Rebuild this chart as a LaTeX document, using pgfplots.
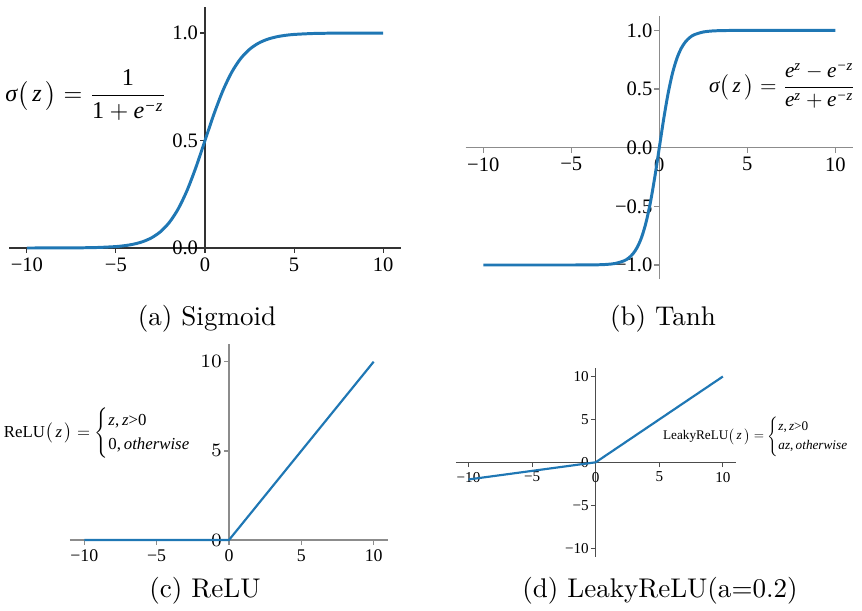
\documentclass[border=0pt]{standalone}
\usepackage{amsmath}
\usepackage{graphicx}
\usepackage{fontspec}
\usepackage{pgfplots}
\pgfplotsset{compat=1.18}
\newfontfamily\tnr{Liberation Serif}
\newcommand\T[1]{\text{\tnr #1}}
\newcommand\Z{\bigl(\,\T{\itshape z}\,\bigr)}
\definecolor{tabblue}{HTML}{1F77B4}

\pgfplotsset{
  actfig/.style={
    scale only axis,
    anchor=origin,
    axis lines=middle,
    axis line style={-},
    clip=false,
    xmin=-11, xmax=11,
    xtick={-10,-5,0,5,10},
    xticklabels={−10,−5,0,5,10},
    tick align=outside,
    major tick length=1.8pt,
    yticklabel style={inner sep=0.6pt},
    xticklabel style={inner sep=1.6pt},
    hide obscured x ticks=false,
    hide obscured y ticks=false,
    every axis plot/.append style={color=tabblue},
  }
}

\begin{document}
\begin{tikzpicture}
\useasboundingbox (0,0) rectangle (318.94pt,225.7pt);

% (a) sigmoid
\begin{axis}[actfig,
  at={(75.85pt,133.94pt)}, width=145.04pt, height=89.89pt,
  ymin=-0.01, ymax=1.12,
  ytick={0,0.5,1}, yticklabels={0.0,0.5,1.0},
  axis line style={black!80, line width=0.4pt},
  tick style={black!80, line width=0.4pt},
  ticklabel style={font=\tnr\fontsize{7.6}{8}\selectfont},
]
\addplot[line width=1.1pt, smooth] coordinates {
(-10,0.0000454) (-9,0.000123) (-8,0.000335) (-7,0.000911) (-6,0.002473)
(-5,0.006693) (-4.5,0.01099) (-4,0.017986) (-3.5,0.029312) (-3,0.047426)
(-2.5,0.075858) (-2,0.119203) (-1.5,0.182426) (-1,0.268941) (-0.5,0.377541)
(0,0.5) (0.5,0.622459) (1,0.731059) (1.5,0.817574) (2,0.880797)
(2.5,0.924142) (3,0.952574) (3.5,0.970688) (4,0.982014) (4.5,0.98901)
(5,0.993307) (6,0.997527) (7,0.999089) (8,0.999665) (9,0.999877) (10,0.999955)};
\end{axis}

% (b) tanh
\begin{axis}[actfig,
  at={(243.94pt,171.05pt)}, width=143.26pt, height=97.22pt,
  ymin=-1.12, ymax=1.12,
  ytick={-1,-0.5,0,0.5,1}, yticklabels={−1.0,−0.5,0.0,0.5,1.0},
  axis line style={black!45, line width=0.55pt},
  tick style={black!45, line width=0.5pt},
  ticklabel style={font=\tnr\fontsize{7.6}{8}\selectfont},
]
\addplot[line width=1.1pt, smooth] coordinates {
(-10,-1) (-6,-0.99999) (-5,-0.99991) (-4,-0.99933) (-3.5,-0.99818) (-3,-0.99505)
(-2.5,-0.98661) (-2,-0.96403) (-1.75,-0.94138) (-1.5,-0.90515) (-1.25,-0.84828)
(-1,-0.76159) (-0.75,-0.63515) (-0.5,-0.46212) (-0.25,-0.24492) (0,0)
(0.25,0.24492) (0.5,0.46212) (0.75,0.63515) (1,0.76159) (1.25,0.84828)
(1.5,0.90515) (1.75,0.94138) (2,0.96403) (2.5,0.98661) (3,0.99505)
(3.5,0.99818) (4,0.99933) (5,0.99991) (6,0.99999) (10,1)};
\end{axis}

% (c) ReLU
\begin{axis}[actfig,
  at={(84.73pt,25.9pt)}, width=117.78pt, height=73.23pt,
  ymin=-0.1, ymax=11,
  ytick={0,5,10},
  axis line style={black!45, line width=0.55pt},
  tick style={black!45, line width=0.5pt},
  ticklabel style={font=\tnr\fontsize{6.6}{7}\selectfont},
]
\addplot[line width=0.8pt] coordinates {(-10,0) (0,0) (10,10)};
\end{axis}

% (d) LeakyReLU
\begin{axis}[actfig,
  at={(220.41pt,54.65pt)}, width=103.54pt, height=69.84pt,
  ymin=-11, ymax=11,
  ytick={-10,-5,0,5,10}, yticklabels={−10,−5,0,5,10},
  axis line style={black!70, line width=0.4pt},
  tick style={black!70, line width=0.4pt},
  ticklabel style={font=\tnr\fontsize{5.6}{6}\selectfont},
]
\addplot[line width=0.8pt] coordinates {(-10,-2) (0,0) (10,10)};
\end{axis}

% formulas
\node at (31.82pt,190.55pt) {\resizebox{59.6pt}{!}{$\T{\itshape σ}\Z = \dfrac{\T{1}}{\T{1}+\T{\itshape e}^{\T{\itshape −z}}}$}};
\node at (289.53pt,193.88pt) {\resizebox{54.4pt}{!}{$\T{\itshape σ}\Z = \dfrac{\T{\itshape e}^{\T{\itshape z}}-\T{\itshape e}^{\T{\itshape −z}}}{\T{\itshape e}^{\T{\itshape z}}+\T{\itshape e}^{\T{\itshape −z}}}$}};
\node at (39.22pt,65.49pt) {\resizebox{75.5pt}{!}{$\T{ReLU}\Z = \begin{cases}\T{\itshape z}\T{,}\,\T{\itshape z}\T{>0}\\ \T{0,}\,\T{\itshape otherwise}\end{cases}$}};
\node at (282.13pt,64.2pt) {\resizebox{73.6pt}{!}{$\T{LeakyReLU}\Z = \begin{cases}\T{\itshape z}\T{,}\,\T{\itshape z}\T{>0}\\ \T{\itshape az}\T{,}\,\T{\itshape otherwise}\end{cases}$}};

% captions
\node[anchor=base, inner sep=0pt] at (76.59pt,105.45pt) {(a) Sigmoid};
\node[anchor=base, inner sep=0pt] at (245.31pt,105.45pt) {(b) Tanh};
\node[anchor=base, inner sep=0pt] at (75.85pt,4.81pt) {(c) ReLU};
\node[anchor=base, inner sep=0pt] at (244.2pt,4.81pt) {(d) LeakyReLU(a=0.2)};
\end{tikzpicture}
\end{document}
